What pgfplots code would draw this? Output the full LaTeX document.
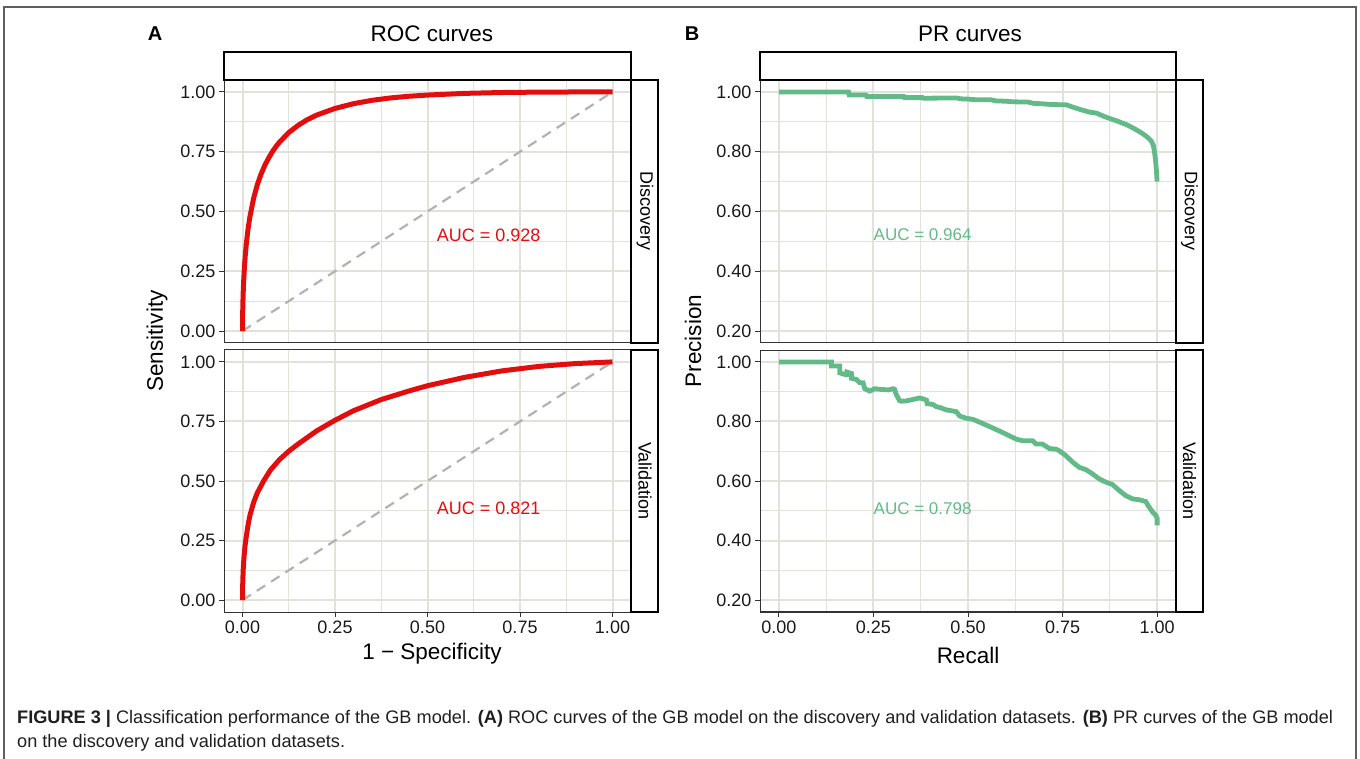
\documentclass[border=0pt]{standalone}
\usepackage{fontspec}
\setmainfont{Liberation Sans}
\usepackage{pgfplots}
\usepackage{pgfplotstable}
\pgfplotsset{compat=1.18}
\definecolor{rocred}{RGB}{226,14,14}
\definecolor{prgreen}{RGB}{98,186,136}
\definecolor{gridc}{RGB}{226,225,220}
\definecolor{diagc}{RGB}{178,178,178}
\definecolor{framec}{RGB}{95,95,95}

\pgfplotstableread{
x y
0 0
0 0.02
0.0001 0.028
0.0002 0.044
0.0005 0.076
0.001 0.113
0.002 0.165
0.003 0.204
0.005 0.262
0.0075 0.317
0.01 0.360
0.015 0.427
0.02 0.478
0.03 0.555
0.04 0.612
0.05 0.656
0.06 0.692
0.07 0.722
0.08 0.748
0.09 0.771
0.10 0.790
0.125 0.830
0.15 0.860
0.175 0.884
0.2 0.903
0.25 0.931
0.3 0.951
0.35 0.965
0.4 0.975
0.45 0.982
0.5 0.987
0.6 0.994
0.7 0.9976
0.8 0.9993
0.9 0.9999
1 1
}\rocdisc

\pgfplotstableread{
x y
0 0
0 0.03
0.0005 0.06
0.001 0.09
0.002 0.13
0.004 0.18
0.007 0.23
0.01 0.265
0.015 0.315
0.02 0.355
0.03 0.41
0.04 0.45
0.057 0.50
0.075 0.545
0.1 0.59
0.125 0.625
0.15 0.655
0.2 0.71
0.25 0.755
0.3 0.795
0.375 0.842
0.45 0.878
0.5 0.90
0.6 0.935
0.7 0.962
0.8 0.981
0.9 0.993
1.0 1.0
}\rocvalid

\pgfplotstableread{
x y
0 1.0
0.184 1.0
0.186 0.990
0.23 0.990
0.232 0.985
0.33 0.985
0.332 0.981
0.38 0.981
0.382 0.979
0.47 0.980
0.48 0.977
0.5 0.976
0.52 0.974
0.56 0.974
0.575 0.970
0.6 0.969
0.62 0.967
0.66 0.966
0.672 0.962
0.7 0.960
0.72 0.958
0.76 0.957
0.78 0.948
0.80 0.940
0.82 0.933
0.84 0.929
0.86 0.918
0.88 0.909
0.90 0.900
0.92 0.890
0.94 0.877
0.96 0.862
0.975 0.848
0.985 0.835
0.99 0.822
0.993 0.800
0.996 0.770
0.998 0.740
1.0 0.70
}\prdisc

\pgfplotstableread{
x y
0 1.000
0.139 1.000
0.139 0.986
0.161 0.986
0.161 0.963
0.174 0.958
0.180 0.958
0.180 0.966
0.192 0.961
0.192 0.945
0.205 0.941
0.214 0.930
0.2225 0.930
0.227 0.910
0.240 0.902
0.253 0.910
0.2665 0.908
0.290 0.906
0.302 0.910
0.306 0.908
0.310 0.891
0.319 0.870
0.324 0.868
0.337 0.869
0.355 0.874
0.372 0.879
0.381 0.876
0.390 0.872
0.392 0.860
0.407 0.857
0.416 0.850
0.430 0.845
0.442 0.839
0.469 0.833
0.478 0.818
0.495 0.811
0.513 0.807
0.530 0.798
0.557 0.783
0.583 0.768
0.601 0.757
0.627 0.741
0.645 0.735
0.671 0.735
0.680 0.724
0.697 0.724
0.715 0.709
0.733 0.707
0.741 0.702
0.759 0.685
0.777 0.663
0.794 0.646
0.812 0.638
0.829 0.624
0.847 0.607
0.865 0.596
0.882 0.588
0.900 0.568
0.917 0.551
0.935 0.540
0.953 0.537
0.970 0.531
0.979 0.512
0.988 0.496
0.997 0.484
1.000 0.475
1.000 0.451
}\prvalid

\pgfplotsset{
  panel/.style={
    scale only axis,
    xmin=-0.05, xmax=1.05,
    xtick={0,0.25,0.5,0.75,1},
    axis line style={draw=black!80, line width=1pt},
    grid=both,
    major grid style={draw=gridc, line width=2pt},
    minor grid style={draw=gridc, line width=1pt},
    minor tick num=1,
    tick align=outside,
    tick pos=left,
    major tick length=5pt,
    minor tick length=0pt,
    tick style={draw=black!80, line width=1pt},
    ticklabel style={font=\fontsize{18}{18}\selectfont, text=black!90},
    /pgf/number format/.cd, fixed, fixed zerofill, precision=2, assume math mode=true,
    /pgfplots/.cd,
  },
  rocpanel/.style={panel, width=407pt, height=263pt, ymin=-0.05, ymax=1.05, ytick={0,0.25,0.5,0.75,1}},
  prpanel/.style={panel, width=416pt, height=263pt, ymin=0.16, ymax=1.04, ytick={0.2,0.4,0.6,0.8,1.0}},
  toppanel/.style={xticklabels={}, xtick style={draw=none}},
}

\begin{document}
\begin{tikzpicture}
\path[use as bounding box] (0pt,0pt) rectangle (1360pt,758pt);
\draw[framec, line width=1.2pt] (4pt,-5pt) -- (4pt,751pt) -- (1356pt,751pt) -- (1356pt,-5pt);

% ROC discovery
\begin{axis}[rocpanel, toppanel, at={(224pt,415pt)}, anchor=south west]
\addplot[diagc, line width=2.2pt, dash pattern=on 10pt off 7pt] coordinates {(0,0) (1,1)};
\addplot[rocred, line width=5pt, line join=round] table[x=x,y=y] {\rocdisc};
\node[text=rocred, font=\fontsize{18}{18}\selectfont] at (axis cs:0.665,0.4) {AUC = 0.928};
\end{axis}
% ROC validation
\begin{axis}[rocpanel, at={(224pt,146pt)}, anchor=south west, height=262pt]
\addplot[diagc, line width=2.2pt, dash pattern=on 10pt off 7pt] coordinates {(0,0) (1,1)};
\addplot[rocred, line width=5pt, line join=round] table[x=x,y=y] {\rocvalid};
\node[text=rocred, font=\fontsize{18}{18}\selectfont] at (axis cs:0.665,0.385) {AUC = 0.821};
\end{axis}
% PR discovery
\begin{axis}[prpanel, toppanel, at={(760pt,415pt)}, anchor=south west]
\addplot[prgreen, line width=4.8pt, line join=miter] table[x=x,y=y] {\prdisc};
\node[text=prgreen, font=\fontsize{17}{17}\selectfont] at (axis cs:0.38,0.522) {AUC = 0.964};
\end{axis}
% PR validation
\begin{axis}[prpanel, at={(760pt,146pt)}, anchor=south west, height=262pt]
\addplot[prgreen, line width=4.8pt, line join=miter] table[x=x,y=y] {\prvalid};
\node[text=prgreen, font=\fontsize{17}{17}\selectfont] at (axis cs:0.38,0.508) {AUC = 0.798};
\end{axis}

% strips
\draw[black, line width=2pt, fill=white] (224pt,678pt) rectangle (631pt,706pt);
\draw[black, line width=2pt, fill=white] (631pt,415pt) rectangle (658pt,678pt);
\draw[black, line width=2pt, fill=white] (631pt,146pt) rectangle (658pt,408pt);
\draw[black, line width=2pt, fill=white] (760pt,678pt) rectangle (1176pt,706pt);
\draw[black, line width=2pt, fill=white] (1176pt,415pt) rectangle (1203pt,678pt);
\draw[black, line width=2pt, fill=white] (1176pt,146pt) rectangle (1203pt,408pt);
\node[rotate=-90, font=\fontsize{18}{18}\selectfont] at (645pt,546.5pt) {Discovery};
\node[rotate=-90, font=\fontsize{18}{18}\selectfont] at (645pt,277pt) {Validation};
\node[rotate=-90, font=\fontsize{18}{18}\selectfont] at (1189.5pt,546.5pt) {Discovery};
\node[rotate=-90, font=\fontsize{18}{18}\selectfont] at (1189.5pt,277pt) {Validation};

% titles and labels
\node[font=\fontsize{20}{20}\selectfont\bfseries] at (155pt,724pt) {A};
\node[font=\fontsize{20}{20}\selectfont\bfseries] at (692pt,724pt) {B};
\node[font=\fontsize{22.5}{22.5}\selectfont] at (432pt,724pt) {ROC curves};
\node[font=\fontsize{22.5}{22.5}\selectfont] at (970pt,724pt) {PR curves};
\node[rotate=90, font=\fontsize{22.5}{22.5}\selectfont] at (157pt,417pt) {Sensitivity};
\node[rotate=90, font=\fontsize{22.5}{22.5}\selectfont] at (693pt,417pt) {Precision};
\node[font=\fontsize{22.5}{22.5}\selectfont] at (432pt,104pt) {1 − Specificity};
\node[font=\fontsize{22.5}{22.5}\selectfont] at (968pt,103pt) {Recall};

% caption
\node[anchor=base west, inner sep=0pt, font=\fontsize{18.15}{18.15}\selectfont, text=black!88] at (17pt,35pt) {\textbf{FIGURE 3 |} Classification performance of the GB model. \textbf{(A)} ROC curves of the GB model on the discovery and validation datasets. \textbf{(B)} PR curves of the GB model};
\node[anchor=base west, inner sep=0pt, font=\fontsize{18.15}{18.15}\selectfont, text=black!88] at (17pt,11pt) {on the discovery and validation datasets.};
\end{tikzpicture}
\end{document}
